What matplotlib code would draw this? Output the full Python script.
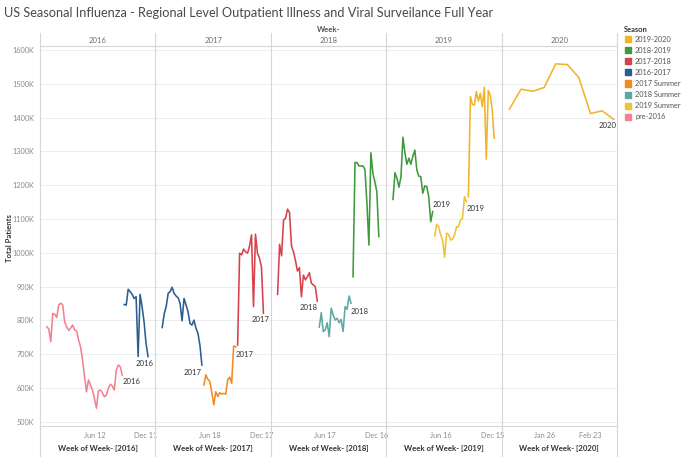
import pandas as pd
import matplotlib.pyplot as plt
import matplotlib.dates as mdates
from matplotlib.lines import Line2D
from matplotlib.patches import Rectangle

plt.rcParams['font.family'] = ['Lato', 'DejaVu Sans']

# Данные (тыс. пациентов, по неделям)
years = [2016, 2017, 2018, 2019, 2020]
first_week = ['2015-12-27', '2017-01-01', '2017-12-31', '2018-12-30', '2020-01-05']
tick_dates = [['2016-06-12', '2016-12-11'], ['2017-06-18', '2017-12-17'],
              ['2018-06-17', '2018-12-16'], ['2019-06-16', '2019-12-15'],
              ['2020-01-26', '2020-02-23']]

seasons = ['2019-2020', '2018-2019', '2017-2018', '2016-2017',
           '2017 Summer', '2018 Summer', '2019 Summer', 'pre-2016']
colors = ['#F0B526', '#3F9A3C', '#D6424C', '#2D5D90',
          '#F28A22', '#5CA9A2', '#EFC237', '#F4818F']

pre2016_y2016 = [781, 775, 737, 821, 818, 809, 846, 851, 846, 796, 781, 770,
                 777, 786, 772, 769, 742, 722, 683, 634, 589, 624, 609, 594,
                 569, 540, 592, 594, 586, 574, 579, 599, 611, 606, 594, 653,
                 668, 663, 638]
s1617_y2016 = [847, 845, 892, 885, 877, 865, 870, 693, 877, 841, 796, 732, 693]
s1617_y2017 = [779, 819, 841, 880, 885, 898, 880, 872, 867, 851, 799, 865,
               846, 826, 791, 786, 801, 777, 762, 727, 668]
summer17_y2017 = [609, 639, 626, 619, 586, 550, 589, 575, 586, 582, 584, 582,
                  624, 632, 614, 724, 722]
s1718_y2017 = [727, 999, 994, 1011, 1003, 999, 1020, 1053, 841, 1055, 999,
               984, 959, 821]
s1718_y2018 = [877, 1025, 991, 1097, 1102, 1129, 1119, 1020, 1003, 977, 946,
               956, 870, 934, 920, 929, 941, 910, 905, 900, 857]
summer18_y2018 = [780, 823, 767, 772, 793, 752, 836, 816, 801, 806, 793, 803,
                  767, 841, 833, 872, 851]
s1819_y2018 = [929, 1267, 1267, 1257, 1257, 1257, 1247, 1146, 1023, 1296,
               1235, 1210, 1181, 1048]
s1819_y2019 = [1158, 1237, 1220, 1194, 1225, 1342, 1296, 1262, 1280, 1262,
               1286, 1304, 1245, 1227, 1225, 1176, 1198, 1196, 1166, 1092, 1122]
summer19_y2019 = [1050, 1084, 1077, 1053, 1038, 987, 1058, 1055, 1038, 1040,
                  1053, 1077, 1077, 1097, 1102, 1166, 1151]
s1920_y2019 = [1166, 1462, 1439, 1437, 1477, 1449, 1472, 1432, 1490, 1277,
               1480, 1467, 1423, 1339]
s1920_y2020 = [1425, 1484, 1478, 1489, 1559, 1557, 1518, 1412, 1420, 1395]

panels = [
    [('pre-2016', pre2016_y2016), ('2016-2017', s1617_y2016)],
    [('2016-2017', s1617_y2017), ('2017 Summer', summer17_y2017), ('2017-2018', s1718_y2017)],
    [('2017-2018', s1718_y2018), ('2018 Summer', summer18_y2018), ('2018-2019', s1819_y2018)],
    [('2018-2019', s1819_y2019), ('2019 Summer', summer19_y2019), ('2019-2020', s1920_y2019)],
    [('2019-2020', s1920_y2020)],
]

# подписи у концов линий: (панель, сезон, выравнивание, dx, dy в пикселях)
end_labels = [
    (0, 'pre-2016', 'left', 0, -6), (0, '2016-2017', 'center', -3, -7),
    (1, '2016-2017', 'right', 0, -7), (1, '2017 Summer', 'left', 0, -8),
    (1, '2017-2018', 'center', -3, -6),
    (2, '2017-2018', 'right', 0, -6), (2, '2018 Summer', 'left', 0, -8),
    (3, '2018-2019', 'left', 0, 7), (3, '2019 Summer', 'left', 0, -7),
    (4, '2019-2020', 'right', 3, -6),
]

color_of = dict(zip(seasons, colors))

W, H = 700, 457
fig = plt.figure(figsize=(W / 100, H / 100), dpi=100)


def fx(x):
    return x / W


def fy(y):
    return 1 - y / H


left, right, top, bottom = 40, 617, 45.5, 426
pw = (right - left) / 5
y_top = 1600 + (50 - top) / 0.338
y_bot = 1600 - (bottom - 50) / 0.338

axes = []
for i, year in enumerate(years):
    x0 = left + i * pw
    ax = fig.add_axes([fx(x0), fy(bottom), pw / W, (bottom - top) / H])
    start = pd.Timestamp(first_week[i])
    k = 0
    for name, vals in panels[i]:
        d = pd.date_range(start + pd.Timedelta(weeks=k), periods=len(vals), freq='7D')
        ax.plot(d, vals, color=color_of[name], lw=1.15, solid_joinstyle='round')
        k += len(vals)
        for (p, s, ha, dx, dy) in end_labels:
            if p == i and s == name:
                ax.annotate(str(year), (d[-1], vals[-1]), xytext=(dx * 0.72, dy * 0.72),
                            textcoords='offset points', ha=ha, va='center',
                            fontsize=5.6, color='#333333')
    if year < 2020:
        ax.set_xlim(start - pd.Timedelta(days=24), start + pd.Timedelta(days=383))
    else:
        ax.set_xlim(start - pd.Timedelta(hours=113), start + pd.Timedelta(days=65))
    ax.set_ylim(y_bot, y_top)
    ax.set_yticks(range(500, 1700, 100))
    ax.yaxis.grid(True, color='#EDEDED', lw=0.7)
    ax.set_axisbelow(True)
    ax.set_xticks([pd.Timestamp(t) for t in tick_dates[i]])
    ax.xaxis.set_major_formatter(mdates.DateFormatter('%b %d'))
    ax.tick_params(axis='x', length=0, labelsize=5.3, labelcolor='#8A8A8A', pad=4)
    ax.tick_params(axis='y', length=0, labelsize=5.3, labelcolor='#8A8A8A', pad=4)
    if i == 0:
        ax.set_yticklabels([f'{v}K' for v in range(500, 1700, 100)])
    else:
        ax.set_yticklabels([])
    for s in ax.spines.values():
        s.set_visible(False)
    ax.patch.set_alpha(0)
    fig.text(fx(x0 + pw / 2), fy(40.7), str(year), ha='center', va='center',
             fontsize=5.6, color='#6E6E6E')
    fig.text(fx(x0 + pw / 2), fy(449), f'Week of Week- [{year}]', ha='center',
             va='center', fontsize=5.6, color='#333333', fontweight='bold')
    axes.append(ax)

# разделители панелей
line_kw = dict(color='#D6D6D6', lw=0.8, transform=fig.transFigure)
for i in range(6):
    x = left + i * pw
    fig.add_artist(Line2D([fx(x), fx(x)], [fy(33), fy(457)], **line_kw))
fig.add_artist(Line2D([fx(left), fx(right)], [fy(top), fy(top)], **line_kw))
fig.add_artist(Line2D([fx(left), fx(right)], [fy(bottom), fy(bottom)], **line_kw))

# заголовки
fig.text(fx(4), fy(13), 'US Seasonal Influenza - Regional Level Outpatient Illness and Viral Surveilance Full Year',
         ha='left', va='center', fontsize=9.2, color='#4A4A4A')
fig.text(fx((left + right) / 2), fy(29.3), 'Week-', ha='center', va='center',
         fontsize=5.6, color='#555555', fontweight='bold')
fig.text(fx(9.5), fy(238), 'Total Patients', rotation=90, ha='center', va='center',
         fontsize=5.6, color='#333333', fontweight='bold')

# легенда
fig.text(fx(624), fy(30), 'Season', ha='left', va='center', fontsize=5.4,
         color='#333333', fontweight='bold')
for j, (s, c) in enumerate(zip(seasons, colors)):
    yc = 39.3 + j * 11.05
    fig.add_artist(Rectangle((fx(625), fy(yc + 3)), 6 / W, 6 / H, color=c,
                             transform=fig.transFigure))
    fig.text(fx(635), fy(yc), s, ha='left', va='center', fontsize=5.3, color='#555555')

fig.savefig('out.png', dpi=100)
